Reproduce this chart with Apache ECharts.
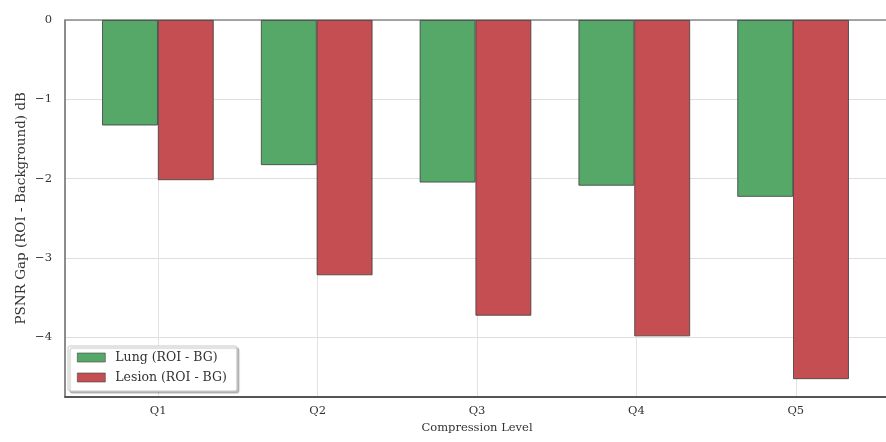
<!DOCTYPE html>
<html>
<head>
<meta charset="utf-8">
<script src="https://cdn.jsdelivr.net/npm/echarts@6/dist/echarts.min.js"></script>
<style>
  html, body { margin: 0; padding: 0; background: #ffffff; }
  #chart { width: 886px; height: 442px; }
</style>
</head>
<body>
<div id="chart"></div>
<script>
// Compression levels on the x axis
const categories = ['Q1', 'Q2', 'Q3', 'Q4', 'Q5'];
// PSNR gap (ROI minus background), dB
const lungGap = [-1.33, -1.83, -2.05, -2.09, -2.23];
const lesionGap = [-2.02, -3.22, -3.73, -3.99, -4.53];
const seriesNames = ['Lung (ROI - BG)', 'Lesion (ROI - BG)'];
const yTicks = [0, -1, -2, -3, -4];

const FONT = '"DejaVu Serif", "Liberation Serif", serif';
const GREEN = '#55A868';
const RED = '#C44E52';

// Axis limits: bars occupy +/-0.35 around each category, with 5% padding
const X_MIN = -0.585, X_MAX = 4.585;
const Y_MIN = -4.75, Y_MAX = 0;

const chart = echarts.init(document.getElementById('chart'), null, { renderer: 'canvas' });

const plotLeft = 65, plotTop = 20, plotBottom = 45.5, plotRight = -3;
const plotW = 886 - plotLeft - plotRight;
const plotH = 442 - plotTop - plotBottom;
const unitX = plotW / (X_MAX - X_MIN);
const unitY = plotH / (Y_MAX - Y_MIN);
const q1x = plotLeft + (0 - X_MIN) * unitX;
const q5x = q1x + (categories.length - 1) * unitX;

const toPairs = arr => arr.map((v, i) => [i, v]);

const option = {
  backgroundColor: '#ffffff',
  animation: false,
  textStyle: { fontFamily: FONT },
  grid: [
    // 0: bars and spines
    { left: plotLeft, right: plotRight, top: plotTop, bottom: plotBottom },
    // 1: horizontal gridlines and y tick labels
    { left: plotLeft, right: plotRight, top: plotTop, height: (yTicks[0] - yTicks[yTicks.length - 1]) * unitY },
    // 2: vertical gridlines and category labels
    { left: q1x, right: 886 - q5x, top: plotTop, bottom: plotBottom }
  ],
  xAxis: [
    { type: 'value', gridIndex: 0, min: X_MIN, max: X_MAX, position: 'bottom',
      axisLine: { show: true, onZero: false, lineStyle: { color: '#555', width: 2 } },
      axisTick: { show: false }, axisLabel: { show: false }, splitLine: { show: false } },
    { type: 'value', gridIndex: 1, min: X_MIN, max: X_MAX, show: false },
    { type: 'category', gridIndex: 2, data: categories, boundaryGap: false,
      axisLine: { show: false }, axisTick: { show: false },
      axisLabel: { color: '#333', fontSize: 11.5, fontFamily: FONT, margin: 9 },
      splitLine: { show: true, lineStyle: { color: '#e2e2e2', width: 1 } },
      name: 'Compression Level', nameLocation: 'middle', nameGap: 25,
      nameTextStyle: { color: '#333', fontSize: 11.5, fontFamily: FONT } },
    // top spine
    { type: 'value', gridIndex: 0, min: X_MIN, max: X_MAX, position: 'top',
      axisLine: { show: true, onZero: false, lineStyle: { color: '#8a8a8a', width: 1.5 } },
      axisTick: { show: false }, axisLabel: { show: false }, splitLine: { show: false } }
  ],
  yAxis: [
    { type: 'value', gridIndex: 0, min: Y_MIN, max: Y_MAX,
      axisLine: { show: true, onZero: false, lineStyle: { color: '#666', width: 1.5 } },
      axisTick: { show: false }, axisLabel: { show: false }, splitLine: { show: false },
      name: 'PSNR Gap (ROI - Background) dB', nameLocation: 'middle', nameGap: 37,
      nameTextStyle: { color: '#333', fontSize: 13.5, fontFamily: FONT } },
    { type: 'value', gridIndex: 1, min: yTicks[yTicks.length - 1], max: yTicks[0], interval: 1,
      axisLine: { show: false }, axisTick: { show: false },
      axisLabel: { color: '#333', fontSize: 11.5, fontFamily: FONT, margin: 13,
        formatter: v => (v < 0 ? '\u2212' + Math.abs(v) : String(v)) },
      splitLine: { show: true, lineStyle: { color: '#dedede', width: 1.2 } } },
    { type: 'value', gridIndex: 2, min: Y_MIN, max: Y_MAX, show: false }
  ],
  legend: {
    orient: 'vertical', left: 68, top: 346,
    data: seriesNames,
    icon: 'rect', itemWidth: 28, itemHeight: 9, itemGap: 5,
    padding: [4, 10, 6, 9],
    itemStyle: { borderWidth: 0.6, borderColor: '#444' },
    backgroundColor: '#ffffff', borderColor: '#c8c8c8', borderWidth: 1, borderRadius: 2,
    shadowColor: 'rgba(0,0,0,0.25)', shadowOffsetX: 2, shadowOffsetY: 2, shadowBlur: 1,
    textStyle: { color: '#333', fontSize: 12.5, fontFamily: FONT, lineHeight: 15, padding: [0, 0, 0, 5] }
  },
  series: [
    { name: seriesNames[0], type: 'bar', xAxisIndex: 0, yAxisIndex: 0,
      data: toPairs(lungGap), barWidth: 0.35 * unitX, barGap: '0%', z: 2,
      itemStyle: { color: GREEN, borderColor: '#3c3c3c', borderWidth: 0.8 } },
    { name: seriesNames[1], type: 'bar', xAxisIndex: 0, yAxisIndex: 0,
      data: toPairs(lesionGap), barWidth: 0.35 * unitX, barGap: '0%', z: 2,
      itemStyle: { color: RED, borderColor: '#3c3c3c', borderWidth: 0.8 } }
  ]
};

chart.setOption(option);
</script>
</body>
</html>
